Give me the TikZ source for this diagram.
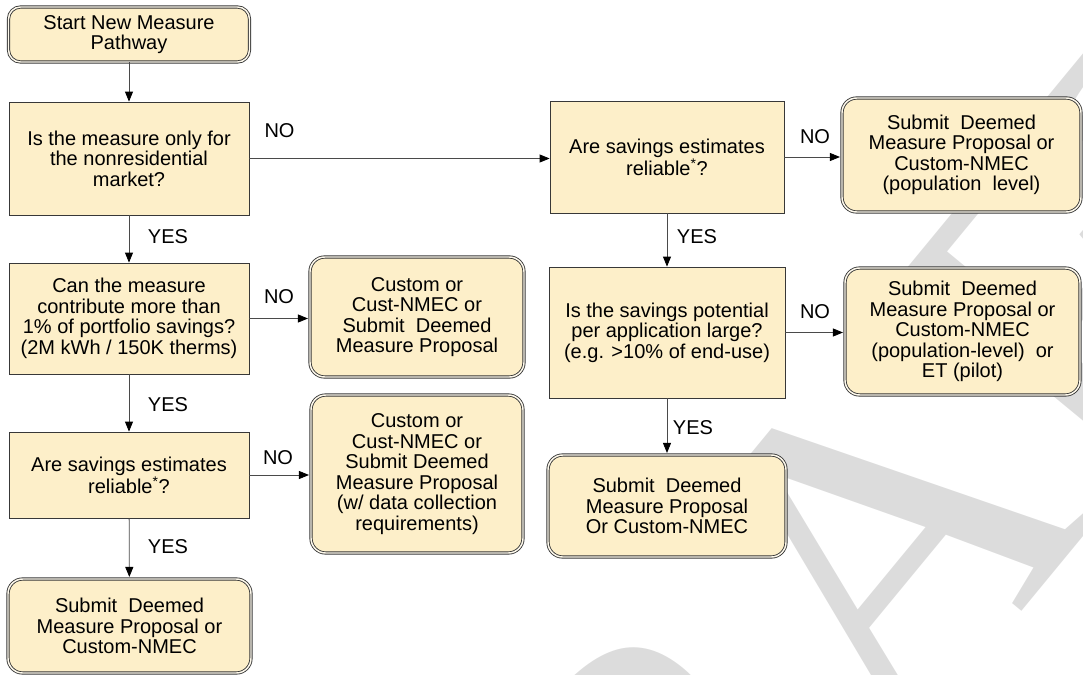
\documentclass[tikz,border=0pt]{standalone}
\usepackage{fontspec}
\setmainfont{Liberation Sans}
\newfontfamily\wmfont{Liberation Serif}
\usetikzlibrary{arrows.meta}
\definecolor{boxfill}{HTML}{FDEFC9}
\definecolor{boxline}{HTML}{383838}
\definecolor{connline}{HTML}{4A4A4A}
\definecolor{wmgray}{HTML}{DCDCDC}
\newcommand{\bodyfont}{\fontsize{15}{15.4}\selectfont}
\begin{document}
\begin{tikzpicture}[x=0.75pt,y=-0.75pt,
  qbox/.style={rectangle, draw=boxline, line width=0.6pt, fill=boxfill,
    align=center, font=\bodyfont, inner sep=2pt, text=black},
  tbox/.style={rectangle, rounded corners=11pt, draw=boxline, line width=0.65pt,
    double={boxfill!35!white}, double distance=1.1pt, fill=boxfill,
    align=center, font=\bodyfont, inner sep=2pt, text=black},
  lbl/.style={font=\bodyfont, inner sep=0pt, text=black},
  arr/.style={draw=connline, line width=0.6pt, -{Triangle[length=7.5pt,width=6pt,black]}},
  intot/.style={shorten >=1.2pt}]
\useasboundingbox (0,0) rectangle (1083,675);
% watermark
\begin{scope}
\clip (0,0) rectangle (1083,675);
\node[text=wmgray, rotate=50.5, inner sep=0pt, font=\wmfont\fontsize{351}{351}\selectfont] (wmk) at (847,581) {DRAFT};
\end{scope}
% left column
\node[tbox, rounded corners=9pt, minimum width=180.75pt, minimum height=41.25pt] (S) at (129,34.5) {Start New Measure\\Pathway};
\node[qbox, minimum width=180pt, minimum height=84.75pt] (Q1) at (129,158.5) {Is the measure only for\\the nonresidential\\market?};
\node[qbox, minimum width=180pt, minimum height=83.25pt] (Q2) at (129,318.5) {Can the measure\\contribute more than\\1\% of portfolio savings?\\(2M kWh / 150K therms)};
\node[qbox, minimum width=180pt, minimum height=64.5pt] (Q3) at (129,475) {Are savings estimates\\reliable\textsuperscript{*}?};
\node[tbox, minimum width=182.25pt, minimum height=70.5pt] (R4) at (129.5,626) {Submit\ \ Deemed\\Measure Proposal or\\Custom-NMEC};
% middle column
\node[tbox, minimum width=160.5pt, minimum height=90pt] (R2) at (417,317) {Custom or\\Cust-NMEC or\\Submit\ \ Deemed\\Measure Proposal};
\node[tbox, minimum width=159pt, minimum height=118.5pt] (R3) at (417,474) {Custom or\\Cust-NMEC or\\Submit Deemed\\Measure Proposal\\(w/ data collection\\requirements)};
% right columns
\node[qbox, minimum width=175.5pt, minimum height=84pt] (Q4) at (667,157) {Are savings estimates\\reliable\textsuperscript{*}?};
\node[qbox, minimum width=177pt, minimum height=98.25pt] (Q5) at (667,332.5) {Is the savings potential\\per application large?\\(e.g. >10\% of end-use)};
\node[tbox, minimum width=178.5pt, minimum height=76.5pt] (R6) at (667,506) {Submit\ \ Deemed\\Measure Proposal\\Or Custom-NMEC};
\node[tbox, minimum width=179.25pt, minimum height=85.5pt] (R1) at (961.5,155) {Submit\ \ Deemed\\Measure Proposal or\\Custom-NMEC\\(population\ \ level)};
\node[tbox, minimum width=176.25pt, minimum height=95.25pt] (R5) at (962.5,331.5) {Submit\ \ Deemed\\Measure Proposal or\\Custom-NMEC\\(population-level)\ \ or\\ET (pilot)};
% connectors
\draw[arr] (S) -- (Q1);
\draw[arr] (Q1) -- (Q2);
\draw[arr] (Q2) -- (Q3);
\draw[arr, intot] (Q3) -- (R4);
\draw[arr] (Q1.east) -- (Q1.east -| Q4.west);
\draw[arr, intot] (Q2.east) -- (Q2.east -| R2.west);
\draw[arr, intot] (Q3.east) -- (Q3.east -| R3.west);
\draw[arr, intot] (Q4.east) -- (Q4.east -| R1.west);
\draw[arr, intot] (Q5.east) -- (Q5.east -| R5.west);
\draw[arr] (Q4) -- (Q5);
\draw[arr, intot] (Q5) -- (R6);
% labels
\node[lbl] (n1) at (279.5,131) {NO};
\node[lbl] (y1) at (168,237) {YES};
\node[lbl] (n2) at (279,297) {NO};
\node[lbl] (y2) at (168,405) {YES};
\node[lbl] (n3) at (278,458) {NO};
\node[lbl] (y3) at (168,547) {YES};
\node[lbl] (n4) at (815,137) {NO};
\node[lbl] (y4) at (697,237) {YES};
\node[lbl] (n5) at (815,312) {NO};
\node[lbl] (y5) at (693,428) {YES};
\end{tikzpicture}
\end{document}
